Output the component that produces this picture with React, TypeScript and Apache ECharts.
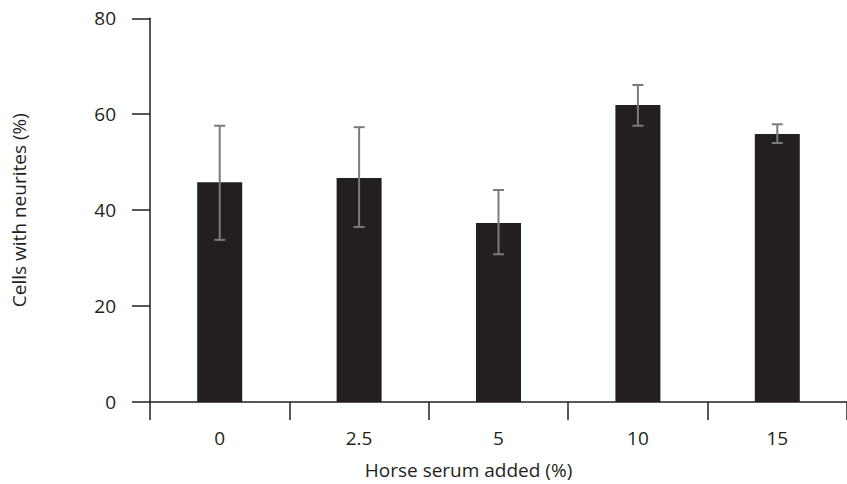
import React, { useEffect, useRef } from "react";
import * as echarts from "echarts";

const categories = ["0", "2.5", "5", "10", "15"];
const means = [45.8, 46.7, 37.3, 61.9, 55.9];
const errLow = [33.8, 36.5, 30.8, 57.6, 54.0];
const errHigh = [57.6, 57.3, 44.2, 66.1, 57.9];
const yTicks = [0, 20, 40, 60, 80];

const TXT = "#231f20";
const FONT = "'Open Sans', 'Noto Sans', sans-serif";
const FS = 19;

export default function App() {
  const ref = useRef<HTMLDivElement>(null);
  useEffect(() => {
    if (!ref.current) return;
    const chart = echarts.init(ref.current, undefined, { renderer: "svg" });
    const errData = categories.map((_, i) => [i, errLow[i], errHigh[i]]);
    chart.setOption({
      animation: false,
      grid: { left: 150, right: -3, top: 18.3, bottom: 81.7, containLabel: false },
      xAxis: {
        type: "category",
        data: categories,
        name: "Horse serum added (%)",
        nameLocation: "middle",
        nameGap: 58,
        nameTextStyle: { color: TXT, fontSize: FS, fontFamily: FONT, padding: [0, 60, 0, 0] },
        axisLine: { show: true, lineStyle: { color: TXT, width: 1.5 } },
        axisTick: { show: true, length: 18, inside: false, lineStyle: { color: TXT, width: 1.5 } },
        axisLabel: { color: TXT, fontSize: FS, fontFamily: FONT, margin: 26 },
        splitLine: { show: false },
      },
      yAxis: {
        type: "value",
        min: yTicks[0],
        max: yTicks[yTicks.length - 1],
        interval: 20,
        name: "Cells with neurites (%)",
        nameLocation: "middle",
        nameGap: 122,
        nameTextStyle: { color: TXT, fontSize: FS, fontFamily: FONT },
        axisLine: { show: true, lineStyle: { color: TXT, width: 1.5 } },
        axisTick: { show: true, length: 18, inside: false, lineStyle: { color: TXT, width: 1.5 } },
        axisLabel: { color: TXT, fontSize: FS, fontFamily: FONT, margin: 34 },
        splitLine: { show: false },
      },
      series: [
        {
          type: "bar",
          data: means,
          barWidth: 45,
          itemStyle: { color: TXT },
          z: 2,
        },
        {
          type: "custom",
          data: errData,
          z: 3,
          renderItem: (params: any, api: any) => {
            const x = api.value(0);
            const lo = api.coord([x, api.value(1)]);
            const hi = api.coord([x, api.value(2)]);
            const hw = 5.5;
            const style = { stroke: "#7b7b7b", lineWidth: 2, fill: "none" };
            return {
              type: "group",
              children: [
                { type: "line", shape: { x1: lo[0], y1: lo[1], x2: hi[0], y2: hi[1] }, style },
                { type: "line", shape: { x1: hi[0] - hw, y1: hi[1], x2: hi[0] + hw, y2: hi[1] }, style },
                { type: "line", shape: { x1: lo[0] - hw, y1: lo[1], x2: lo[0] + hw, y2: lo[1] }, style },
              ],
            };
          },
        },
      ],
    });
    return () => chart.dispose();
  }, []);
  return (
    <div
      ref={ref}
      style={{ position: "absolute", left: 0, top: 0, width: 847, height: 484 }}
    />
  );
}
